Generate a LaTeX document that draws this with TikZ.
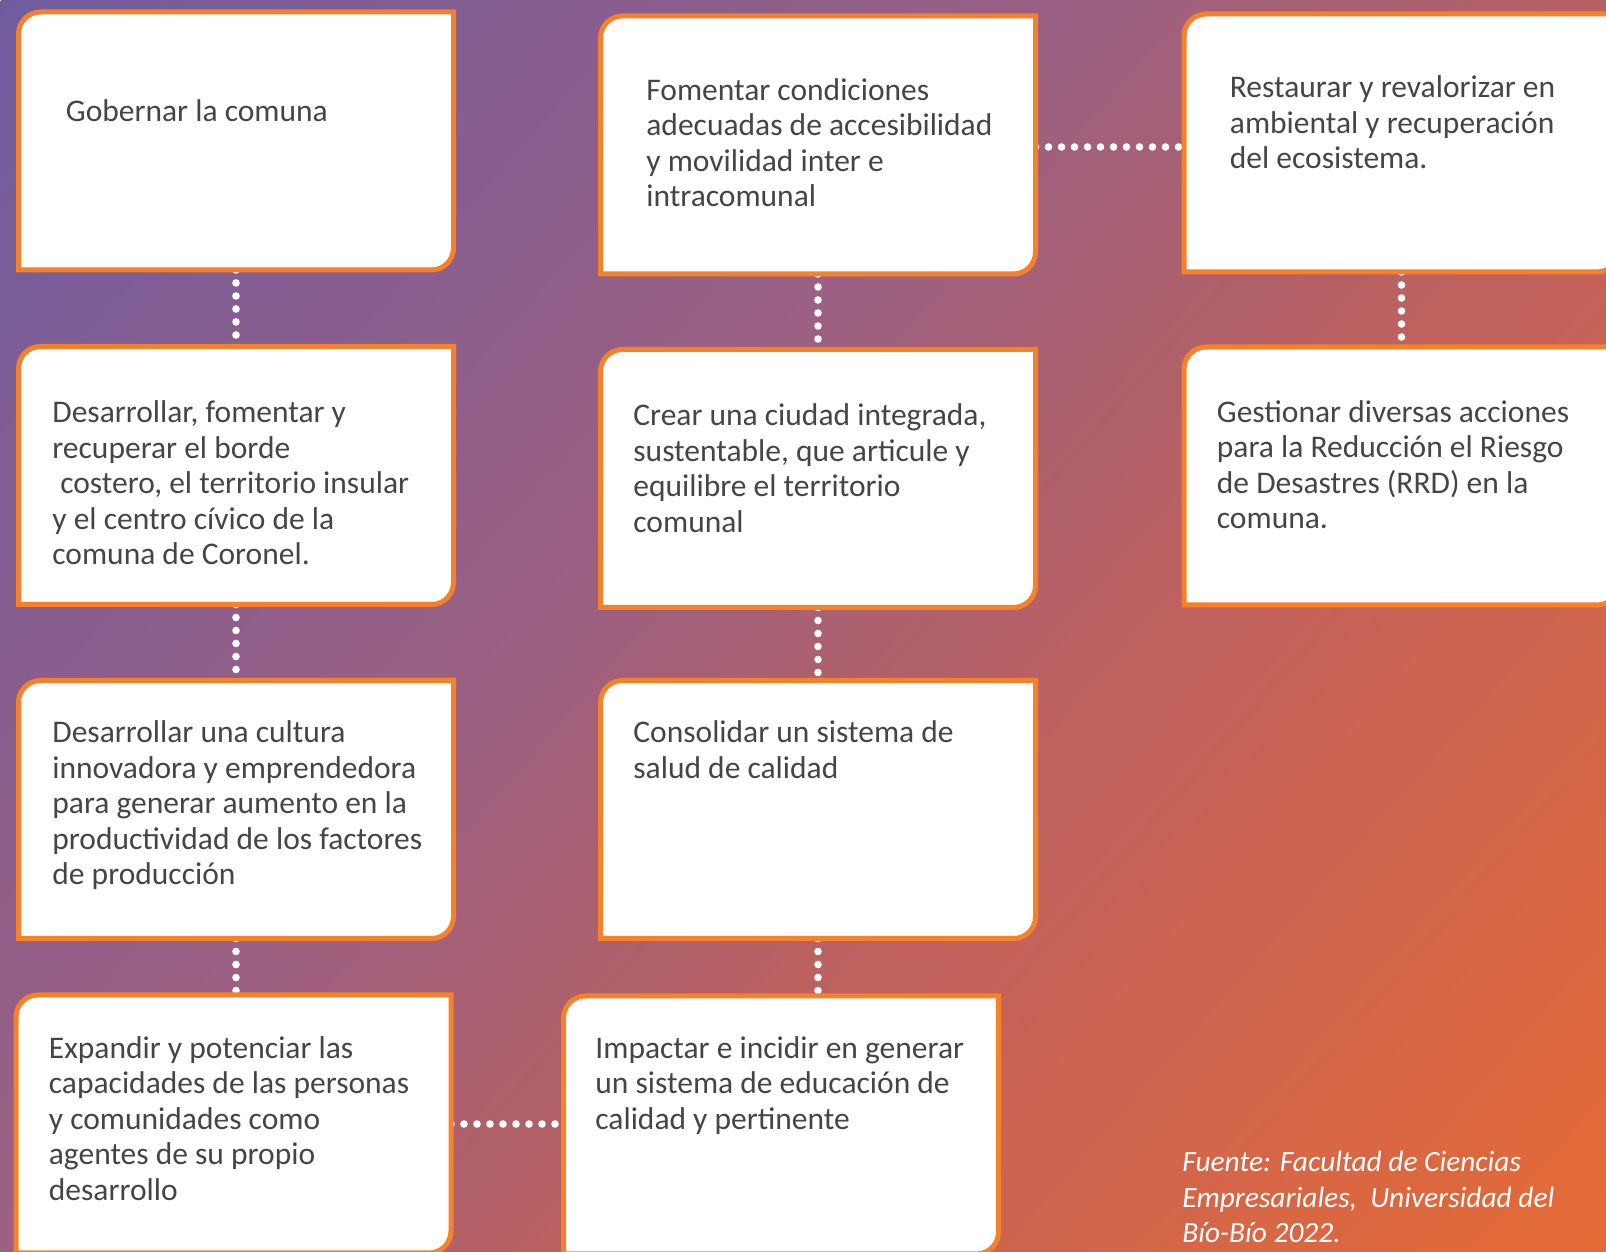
\documentclass[tikz,border=0pt]{standalone}
\usepackage{fontspec}
\setmainfont{Carlito}
\usepackage{xcolor}
\usepackage{tikz}
\usetikzlibrary{positioning, calc}

\definecolor{bga}{HTML}{6F5C9F}
\definecolor{bgb}{HTML}{9C6082}
\definecolor{bgc}{HTML}{B06068}
\definecolor{bgd}{HTML}{BF615F}
\definecolor{bge}{HTML}{E66A35}
\definecolor{boxorange}{HTML}{F5822A}
\definecolor{txtgray}{HTML}{454545}

\pgfdeclarehorizontalshading{bgshade}{1000pt}{color(0pt)=(bga); color(413.5pt)=(bgb); color(566pt)=(bgc); color(644pt)=(bgd); color(1016pt)=(bge)}
\newcommand{\boxtext}[1]{\begin{tabular}[t]{@{}l@{}}#1\end{tabular}}

\begin{document}
\begin{tikzpicture}[x=0.5pt, y=0.5pt,
  ebox/.style={minimum width=217.5pt, minimum height=129pt, inner sep=0pt, outer sep=0pt},
  boxline/.style={draw=boxorange, line width=2.5pt, fill=white},
  dotline/.style={white, line width=3.8pt, line cap=round, dash pattern=on 0pt off 6.5pt},
  txt/.style={anchor=base west, inner sep=0pt, text=txtgray, font=\fontsize{15.75}{17.7}\selectfont}]
\useasboundingbox (0,0) rectangle (1606,1252);
\clip (0,0) rectangle (1606,1252);
\node[rotate=-41.3, inner sep=0pt] (bg) at (803,626) {\pgfuseshading{bgshade}};

% boxes
\node[ebox] (gob) at (236,1111) {};
\node[ebox] (des1) at (236,776.5) {};
\node[ebox] (des2) at (236,442.5) {};
\node[ebox] (exp) at (233.5,128) {};
\node[ebox] (fom) at (818,1107) {};
\node[ebox] (cre) at (818,773.5) {};
\node[ebox] (con) at (818,442.5) {};
\node[ebox] (imp) at (781,127) {};
\node[ebox] (res) at (1401.5,1109) {};
\node[ebox] (ges) at (1401.5,776) {};

% dotted links
\draw[dotline] (gob.south) -- (des1.north);
\draw[dotline] (des1.south) -- (des2.north);
\draw[dotline] (des2.south) -- (des2.south |- exp.north);
\draw[dotline] (fom.south) -- (cre.north);
\draw[dotline] (cre.south) -- (con.north);
\draw[dotline] (con.south) -- (con.south |- imp.north);
\draw[dotline] (res.south) -- (ges.north);
\draw[dotline] ([yshift=-1pt]fom.east) -- ([yshift=-1pt]fom.east -| res.west);
\draw[dotline] (exp.east) -- (exp.east -| imp.west);

\foreach \b in {gob,des1,des2,exp,fom,cre,con,imp,res,ges}
  \draw[boxline] (\b.south west) -- ([yshift=-11pt]\b.north west) arc[start angle=180, end angle=90, radius=11pt]
    -- (\b.north east) -- ([yshift=11pt]\b.south east) arc[start angle=0, end angle=-90, radius=11pt] -- cycle;

% texts
\node[txt] (tgob) at ([shift={(47,-109.5)}]gob.north west) {\boxtext{Gobernar la comuna}};
\node[txt] (tfom) at ([shift={(45.5,-84.5)}]fom.north west) {\boxtext{Fomentar condiciones\\adecuadas de accesibilidad\\y movilidad inter e\\intracomunal}};
\node[txt] (tres) at ([shift={(45.5,-84)}]res.north west) {\boxtext{Restaurar y revalorizar en\\ambiental y recuperación\\del ecosistema.}};
\node[txt] (tdes1) at ([shift={(33.5,-76.5)}]des1.north west) {\boxtext{Desarrollar, fomentar y\\recuperar el borde\\\hspace{0.25em}costero, el territorio insular\\y el centro cívico de la\\comuna de Coronel.}};
\node[txt] (tcre) at ([shift={(32.5,-76.5)}]cre.north west) {\boxtext{Crear una ciudad integrada,\\sustentable, que articule y\\equilibre el territorio\\comunal}};
\node[txt] (tges) at ([shift={(32.5,-75.5)}]ges.north west) {\boxtext{Gestionar diversas acciones\\para la Reducción el Riesgo\\de Desastres (RRD) en la\\comuna.}};
\node[txt] (tdes2) at ([shift={(33.5,-62.5)}]des2.north west) {\boxtext{Desarrollar una cultura\\innovadora y emprendedora\\para generar aumento en la\\productividad de los factores\\de producción}};
\node[txt] (tcon) at ([shift={(32.5,-62.5)}]con.north west) {\boxtext{Consolidar un sistema de\\salud de calidad}};
\node[txt] (texp) at ([shift={(32.5,-63.5)}]exp.north west) {\boxtext{Expandir y potenciar las\\capacidades de las personas\\y comunidades como\\agentes de su propio\\desarrollo}};
\node[txt] (timp) at ([shift={(31.5,-62.5)}]imp.north west) {\boxtext{Impactar e incidir en generar\\un sistema de educación de\\calidad y pertinente}};
\node[txt, text=white, font=\fontsize{14.7}{17.7}\selectfont\itshape] (src) at (1182,80) {\boxtext{Fuente: Facultad de Ciencias\\Empresariales,\ \ Universidad del\\Bío-Bío 2022.}};
\end{tikzpicture}
\end{document}
